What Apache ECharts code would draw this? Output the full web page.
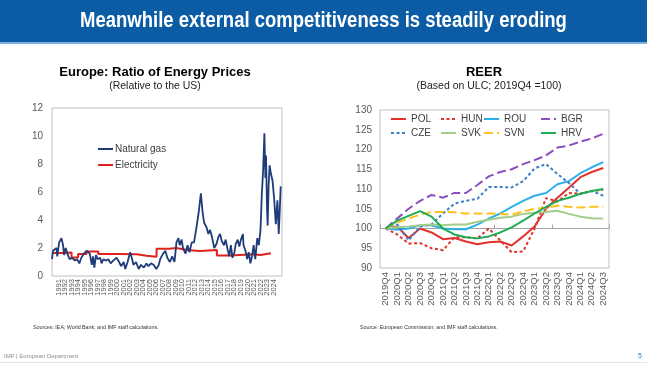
<!DOCTYPE html>
<html><head><meta charset="utf-8">
<script src="https://cdn.jsdelivr.net/npm/echarts@6.0.0/dist/echarts.min.js"></script>
<style>html,body{margin:0;padding:0;background:#fff}#c{width:647px;height:365px}</style>
</head><body><div id="c"></div>
<script>
// ---------- Left chart: Europe ratio of energy prices (relative to US) ----------
const gasYears = [1990.0,1990.15,1990.4,1990.7,1990.8,1991.1,1991.45,1991.7,1991.85,1992.1,1992.35,1992.7,1993.1,1993.5,1993.85,1994.2,1994.5,1994.9,1995.3,1995.55,1995.8,1996.1,1996.3,1996.5,1996.75,1997.0,1997.4,1997.6,1997.9,1998.3,1998.65,1999.0,1999.4,1999.9,2000.3,2000.6,2001.0,2001.25,2001.6,2002.0,2002.3,2002.5,2002.9,2003.3,2003.65,2004.1,2004.5,2004.8,2005.2,2005.6,2006.0,2006.4,2006.6,2007.05,2007.4,2007.7,2008.1,2008.45,2008.8,2009.1,2009.4,2009.6,2009.9,2010.1,2010.5,2010.8,2011.1,2011.45,2011.8,2012.15,2012.5,2012.85,2013.1,2013.35,2013.7,2014.0,2014.25,2014.5,2014.9,2015.25,2015.55,2015.8,2016.05,2016.4,2016.65,2016.95,2017.2,2017.45,2017.7,2018.0,2018.2,2018.5,2018.75,2019.0,2019.3,2019.4,2019.7,2019.95,2020.2,2020.45,2020.7,2020.95,2021.2,2021.5,2021.75,2022.0,2022.2,2022.4,2022.6,2022.75,2022.85,2023.0,2023.1,2023.25,2023.4,2023.6,2023.85,2024.1,2024.35,2024.6,2024.8,2024.95,2025.1];
const gasValues = [1.2,1.8,1.9,2.0,1.4,2.4,2.7,2.2,1.5,2.0,1.6,1.2,1.3,1.1,1.2,0.9,1.3,1.6,1.8,1.9,1.6,0.8,1.4,0.6,1.5,1.2,1.3,0.9,1.2,1.1,1.2,0.9,1.1,1.3,1.0,0.7,1.0,0.5,1.0,1.7,1.2,0.8,1.0,0.5,0.8,0.6,0.9,0.7,0.9,0.8,0.5,0.8,1.2,1.6,1.8,1.3,1.0,1.4,1.0,2.4,2.7,2.2,2.6,2.0,1.6,2.2,1.7,2.4,2.4,3.4,4.5,5.9,4.6,3.8,3.5,3.0,3.3,2.9,2.0,2.3,2.8,3.0,2.5,2.2,2.6,1.9,1.4,2.2,1.3,1.7,2.3,2.6,2.1,2.6,3.0,2.2,1.8,1.2,1.7,0.9,1.4,2.2,1.2,2.7,2.2,3.3,5.8,7.5,10.2,7.0,8.6,4.8,3.6,6.5,7.9,7.3,6.8,5.5,3.7,5.4,3.0,4.6,6.4];
const elecYears = [1990,1991.5,1993.0,1994.0,1995.3,1997.1,2000,2003.0,2004.5,2006.05,2008,2009.1,2010.7,2012.7,2015.3,2017.3,2020.9,2022.0,2023.6];
const elecValues = [1.65,1.68,1.32,1.58,1.75,1.57,1.55,1.45,1.38,1.95,2.0,1.86,1.79,1.86,1.47,1.55,1.5,1.62,1.65];
const leftYTicks = [0,2,4,6,8,10,12];

// ---------- Right chart: REER (based on ULC, 2019Q4 = 100) ----------
const quarters = ['2019Q4','2020Q1','2020Q2','2020Q3','2020Q4','2021Q1','2021Q2','2021Q3','2021Q4','2022Q1','2022Q2','2022Q3','2022Q4','2023Q1','2023Q2','2023Q3','2023Q4','2024Q1','2024Q2','2024Q3'];
const POL = [100,100.5,97.6,100,99,97.3,97.6,96.7,96,96.5,96.7,95.7,98,100.5,105,107.8,110.3,113,114.3,115.3];
const HUN = [100,98.5,96.2,96.3,95,94.5,97.8,97.8,97.5,100,97,94,94.2,100,107.7,106.8,109,108.8,109.5,109.8];
const ROU = [100,99.7,100,100.8,100.8,100,99.8,99.8,101,102.5,103.8,105.5,107,108.3,109,111.2,112,114,115.5,116.8];
const BGR = [100,102.5,105,107,108.5,107.8,109,109,111,113.2,114.3,115,116.3,117.3,118.5,120.5,121,122,122.8,124];
const CZE = [100,101,97,100.5,101,103.8,106.3,107,107.5,110.5,110.5,110.4,112,115.2,116.3,113.8,111.5,108.8,109.5,108.3];
const SVK = [100,100.3,100.5,100.8,101,100.8,101,101,101.7,102.2,102.7,103,103.7,104,104.2,104.5,103.7,103,102.6,102.5];
const SVN = [100,101.5,102.5,103.5,104.2,104.2,104.1,103.8,103.8,103.8,103.7,103.5,104.3,105,105.2,105.8,105.5,105.3,105.5,105.5];
const HRV = [100,102,103.2,104.4,103,100,98.5,97.8,97.5,98,99,100.3,102,103.8,105.5,107,107.8,108.8,109.5,110];
const rightYTicks = [90,95,100,105,110,115,120,125,130];

const FONT = '"Liberation Sans", Arial, sans-serif';
const axisTxt = '#595959';

const rGrid = {left:380, top:110, width:229, height:158};
const rMin = rightYTicks[0], rMax = rightYTicks[rightYTicks.length-1];
const baseOffset = -(100 - rMin) / (rMax - rMin) * rGrid.height;

const reerSeries = [
  {name:'POL', data:POL, color:'#E3312D', type:'solid'},
  {name:'HUN', data:HUN, color:'#E3312D', type:[3,2.5]},
  {name:'ROU', data:ROU, color:'#2BB0EA', type:'solid'},
  {name:'BGR', data:BGR, color:'#8A4FBE', type:[9,4]},
  {name:'CZE', data:CZE, color:'#3F7DC8', type:[3,2.5]},
  {name:'SVK', data:SVK, color:'#A4CC8A', type:'solid'},
  {name:'SVN', data:SVN, color:'#FFC21A', type:[9,4]},
  {name:'HRV', data:HRV, color:'#1EAD55', type:'solid'}
];
const legendPos = {
  POL:[390,114], HUN:[440,114], ROU:[483,114], BGR:[540,114],
  CZE:[390,128], SVK:[440,128], SVN:[483,128], HRV:[540,128]
};

const chart = echarts.init(document.getElementById('c'), null, {renderer:'canvas'});

const legends = [{
  data:['Natural gas','Electricity'], orient:'vertical', left:97, top:144, padding:0,
  itemWidth:15, itemHeight:10, itemGap:6,
  itemStyle:{opacity:0},
  textStyle:{fontSize:10, color:'#404040', fontFamily:FONT, padding:[0,0,0,-3]}
}];
reerSeries.forEach(s => {
  legends.push({
    data:[s.name], left:legendPos[s.name][0], top:legendPos[s.name][1], padding:0,
    itemWidth:15, itemHeight:10, itemStyle:{opacity:0},
    textStyle:{fontSize:10, color:'#404040', fontFamily:FONT}
  });
});

const option = {
  animation:false,
  backgroundColor:'#ffffff',
  legend: legends,
  grid:[
    {left:52, top:108, width:230, height:168, show:true, borderColor:'#BFBFBF', borderWidth:1, containLabel:false},
    {left:rGrid.left, top:rGrid.top, width:rGrid.width, height:rGrid.height, show:true, borderColor:'#BFBFBF', borderWidth:1, containLabel:false}
  ],
  xAxis:[
    {type:'value', gridIndex:0, min:1990, max:2025.3, interval:1,
     axisLine:{show:false}, axisTick:{show:false}, splitLine:{show:false},
     axisLabel:{rotate:90, fontSize:7.5, color:axisTxt, fontFamily:FONT, margin:3,
       formatter:v => (Number.isInteger(v) && v <= 2024) ? String(v) : ''}},
    {type:'category', gridIndex:1, data:quarters, boundaryGap:true,
     axisLine:{show:false}, axisTick:{show:false}, splitLine:{show:false},
     axisLabel:{rotate:90, fontSize:9.5, color:axisTxt, fontFamily:FONT, margin:4, interval:0}},
    {type:'category', gridIndex:1, data:quarters, boundaryGap:true, position:'bottom', offset:baseOffset,
     axisLine:{show:true, onZero:false, lineStyle:{color:'#A6A6A6', width:1}},
     axisTick:{show:true, inside:true, length:4, lineStyle:{color:'#A6A6A6'}},
     axisLabel:{show:false}, splitLine:{show:false}}
  ],
  yAxis:[
    {type:'value', gridIndex:0, min:leftYTicks[0], max:leftYTicks[leftYTicks.length-1], interval:2,
     axisLine:{show:false}, axisTick:{show:false}, splitLine:{show:false},
     axisLabel:{fontSize:10, color:axisTxt, fontFamily:FONT, margin:9}},
    {type:'value', gridIndex:1, min:rMin, max:rMax, interval:5,
     axisLine:{show:false}, axisTick:{show:false}, splitLine:{show:false},
     axisLabel:{fontSize:10, color:axisTxt, fontFamily:FONT, margin:8}}
  ],
  series:[
    {name:'Natural gas', type:'line', xAxisIndex:0, yAxisIndex:0, symbol:'none',
     data:gasYears.map((y,i)=>[y, gasValues[i]]),
     lineStyle:{color:'#1F3C7A', width:1.8}, itemStyle:{color:'#1F3C7A'}, z:3},
    {name:'Electricity', type:'line', xAxisIndex:0, yAxisIndex:0, symbol:'none', step:'end',
     data:elecYears.map((y,i)=>[y, elecValues[i]]),
     lineStyle:{color:'#E0201B', width:2}, itemStyle:{color:'#E0201B'}, z:2},
    ...reerSeries.map(s => ({
      name:s.name, type:'line', xAxisIndex:1, yAxisIndex:1, symbol:'none',
      data:s.data, lineStyle:{color:s.color, width:2, type:s.type}, itemStyle:{color:s.color}
    }))
  ],
  graphic:[
    {type:'rect', shape:{x:0,y:0,width:647,height:43}, style:{fill:'#0B5CA5'}, z:-1},
    {type:'rect', shape:{x:0,y:42,width:647,height:2}, style:{fill:'#7FB0DE'}, z:-1},
    {type:'text', x:323.5, y:21, scaleX:0.84, z:10,
     style:{text:'Meanwhile external competitiveness is steadily eroding', fill:'#ffffff',
       font:'bold 22px "Liberation Sans", Arial, sans-serif', textAlign:'center', align:'center', textVerticalAlign:'middle', verticalAlign:'middle'}},
    {type:'text', x:155, y:72, style:{text:'Europe: Ratio of Energy Prices', fill:'#000',
       font:'bold 13px "Liberation Sans", Arial, sans-serif', textAlign:'center', align:'center', textVerticalAlign:'middle', verticalAlign:'middle'}},
    {type:'text', x:155, y:86, style:{text:'(Relative to the US)', fill:'#222',
       font:'10.5px "Liberation Sans", Arial, sans-serif', textAlign:'center', align:'center', textVerticalAlign:'middle', verticalAlign:'middle'}},
    {type:'text', x:484, y:72, style:{text:'REER', fill:'#000',
       font:'bold 13px "Liberation Sans", Arial, sans-serif', textAlign:'center', align:'center', textVerticalAlign:'middle', verticalAlign:'middle'}},
    {type:'text', x:489, y:86, style:{text:'(Based on ULC; 2019Q4 =100)', fill:'#222',
       font:'10.5px "Liberation Sans", Arial, sans-serif', textAlign:'center', align:'center', textVerticalAlign:'middle', verticalAlign:'middle'}},
    {type:'text', x:33, y:328, style:{text:'Sources: IEA; World Bank; and IMF staff calculations.', fill:'#333',
       font:'5.3px "Liberation Sans", Arial, sans-serif', textAlign:'left', align:'left', textVerticalAlign:'middle', verticalAlign:'middle'}},
    {type:'text', x:360, y:328, style:{text:'Source: European Commission; and IMF staff calculations.', fill:'#333',
       font:'5.3px "Liberation Sans", Arial, sans-serif', textAlign:'left', align:'left', textVerticalAlign:'middle', verticalAlign:'middle'}},
    {type:'text', x:4, y:356, style:{text:'IMF | European Department', fill:'#8C8C8C',
       font:'6px "Liberation Sans", Arial, sans-serif', textAlign:'left', align:'left', textVerticalAlign:'middle', verticalAlign:'middle'}},
    {type:'text', x:640, y:356, style:{text:'5', fill:'#2E75B6',
       font:'7px "Liberation Sans", Arial, sans-serif', textAlign:'center', align:'center', textVerticalAlign:'middle', verticalAlign:'middle'}},
    {type:'rect', shape:{x:0,y:362,width:647,height:1}, style:{fill:'#E3E3E3'}, z:-1}
  ]
};
chart.setOption(option);
</script>
</body></html>
